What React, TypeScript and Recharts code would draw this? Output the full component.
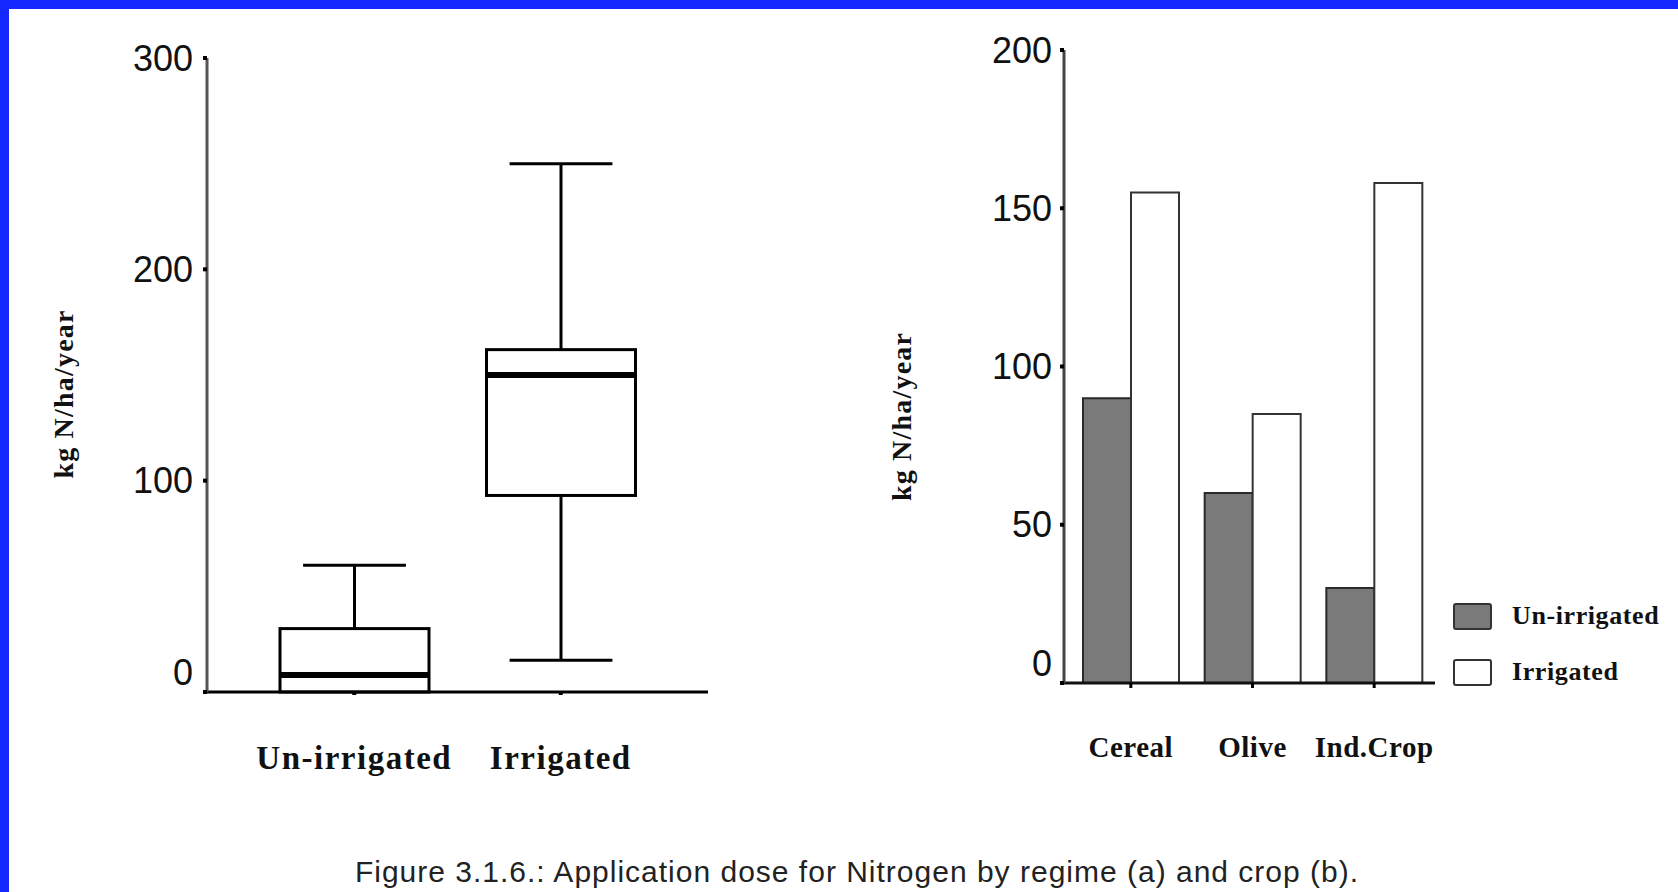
import { ComposedChart, BarChart, Bar, XAxis, YAxis, Legend } from 'recharts';

// (a) application dose by regime, box plot values
const regimes = ['Un-irrigated', 'Irrigated'];
const whiskerLow = [0, 15];
const quartileLow = [0, 93];
const medians = [8, 150];
const quartileHigh = [30, 162];
const whiskerHigh = [60, 250];
const doseTicks = [0, 100, 200, 300];

// (b) application dose by crop
const crops = ['Cereal', 'Olive', 'Ind.Crop'];
const unIrrigated = [90, 60, 30];
const irrigated = [155, 85, 158];
const cropTicks = [0, 50, 100, 150, 200];
const seriesNames = ['Un-irrigated', 'Irrigated'];

const boxData = regimes.map((name, i) => ({
    name,
    min: whiskerLow[i],
    q1: quartileLow[i],
    median: medians[i],
    q3: quartileHigh[i],
    max: whiskerHigh[i],
}));

const cropData = crops.map((name, i) => ({
    name,
    unIrrigated: unIrrigated[i],
    irrigated: irrigated[i],
}));

const SANS = "'Liberation Sans', Arial, sans-serif";
const SERIF = "'Liberation Serif', 'Times New Roman', serif";

const BoxShape = (props: any) => {
    const { x, y, width, height, payload } = props;
    const { min, q1, median, q3, max } = payload;
    const k = height / (max - min);
    const py = (v: number) => y + (max - v) * k;
    const cx = x + width / 2;
    const cap = width * 0.69;
    return (
        <g stroke="#000" fill="none">
            <line x1={cx} x2={cx} y1={py(max)} y2={py(q3)} strokeWidth={3} />
            <line x1={cx - cap / 2} x2={cx + cap / 2} y1={py(max)} y2={py(max)} strokeWidth={3} />
            {min < q1 && (
                <>
                    <line x1={cx} x2={cx} y1={py(q1)} y2={py(min)} strokeWidth={3} />
                    <line x1={cx - cap / 2} x2={cx + cap / 2} y1={py(min)} y2={py(min)} strokeWidth={3} />
                </>
            )}
            <rect x={x} y={py(q3)} width={width} height={py(q1) - py(q3)} fill="#fff" strokeWidth={3} />
            <line x1={x} x2={x + width} y1={py(median)} y2={py(median)} strokeWidth={6} />
        </g>
    );
};

const YTick = (props: any) => {
    const { x, y, payload } = props;
    return (
        <text
            x={x}
            y={payload.value === 0 ? y - 20 : y}
            textAnchor="end"
            dominantBaseline="central"
            fontFamily={SANS}
            fontSize={36}
            fill="#111"
        >
            {payload.value}
        </text>
    );
};

const makeXTick = (dy: number, size: number, spacing: number) => (props: any) => {
    const { x, y, payload } = props;
    return (
        <text
            x={x}
            y={y + dy}
            textAnchor="middle"
            fontFamily={SERIF}
            fontWeight="bold"
            fontSize={size}
            letterSpacing={spacing}
            fill="#111"
        >
            {payload.value}
        </text>
    );
};

const makeYLabel = (dx: number, dy: number) => (props: any) => {
    const { viewBox } = props;
    const cx = viewBox.x + dx;
    const cy = viewBox.y + viewBox.height / 2 + dy;
    return (
        <text
            x={cx}
            y={cy}
            transform={`rotate(-90, ${cx}, ${cy})`}
            textAnchor="middle"
            dominantBaseline="central"
            fontFamily={SERIF}
            fontWeight="bold"
            fontSize={28}
            letterSpacing={1.2}
            fill="#111"
        >
            kg N/ha/year
        </text>
    );
};

const CropLegend = (props: any) => {
    const items = [...(props.payload || [])].sort(
        (a: any, b: any) => seriesNames.indexOf(a.value) - seriesNames.indexOf(b.value)
    );
    return (
        <div>
            {items.map((entry: any) => (
                <div key={entry.value} style={{ display: 'flex', alignItems: 'center', height: 56 }}>
                    <span
                        style={{
                            width: 39,
                            height: 27,
                            background: entry.color,
                            border: '2px solid #333',
                            borderRadius: 3,
                            boxSizing: 'border-box',
                        }}
                    />
                    <span
                        style={{
                            marginLeft: 20,
                            fontFamily: SERIF,
                            fontWeight: 'bold',
                            fontSize: 26,
                            letterSpacing: 0.6,
                            color: '#111',
                        }}
                    >
                        {entry.value}
                    </span>
                </div>
            ))}
        </div>
    );
};

const App = () => {
    return (
        <div
            style={{
                position: 'absolute',
                left: 0,
                top: 0,
                width: 1678,
                height: 892,
                overflow: 'hidden',
                background: '#fff',
            }}
        >
            <div style={{ position: 'absolute', left: 0, top: 0, width: 1678, height: 9, background: '#1428ff' }} />
            <div style={{ position: 'absolute', left: 0, top: 0, width: 9, height: 892, background: '#1428ff' }} />

            <div style={{ position: 'absolute', left: 0, top: 0 }}>
                <ComposedChart
                    width={728}
                    height={780}
                    data={boxData}
                    margin={{ top: 58, right: 20, bottom: 0, left: 147 }}
                >
                    <XAxis
                        dataKey="name"
                        height={88}
                        padding={{ left: 44, right: 44 }}
                        axisLine={{ stroke: '#000', strokeWidth: 3 }}
                        tickLine={{ stroke: '#000', strokeWidth: 4 }}
                        tickSize={3}
                        tickMargin={2}
                        tick={makeXTick(72, 33, 1.5)}
                    />
                    <YAxis
                        width={60}
                        domain={[0, 300]}
                        ticks={doseTicks}
                        axisLine={{ stroke: '#555', strokeWidth: 3 }}
                        tickLine={{ stroke: '#000', strokeWidth: 4 }}
                        tickSize={4}
                        tickMargin={10}
                        tick={YTick}
                        label={{ content: makeYLabel(-84, 19) }}
                    />
                    <Bar
                        dataKey={(d: any) => [d.min, d.max]}
                        barSize={149}
                        shape={BoxShape}
                        isAnimationActive={false}
                    />
                </ComposedChart>
            </div>

            <div style={{ position: 'absolute', left: 860, top: 0 }}>
                <BarChart
                    width={818}
                    height={770}
                    data={cropData}
                    barGap={0}
                    margin={{ top: 50, right: 243, bottom: 0, left: 144 }}
                >
                    <XAxis
                        dataKey="name"
                        height={87}
                        padding={{ left: 6, right: 0 }}
                        axisLine={{ stroke: '#111', strokeWidth: 3 }}
                        tickLine={{ stroke: '#000', strokeWidth: 3 }}
                        tickSize={5}
                        tickMargin={2}
                        tick={makeXTick(67, 29, 0.5)}
                    />
                    <YAxis
                        width={60}
                        domain={[0, 200]}
                        ticks={cropTicks}
                        axisLine={{ stroke: '#444', strokeWidth: 3 }}
                        tickLine={{ stroke: '#000', strokeWidth: 4 }}
                        tickSize={4}
                        tickMargin={8}
                        tick={YTick}
                        label={{ content: makeYLabel(-103, 50) }}
                    />
                    <Legend
                        layout="vertical"
                        align="center"
                        verticalAlign="middle"
                        content={CropLegend}
                        wrapperStyle={{ left: 593, top: 588, width: 220 }}
                    />
                    <Bar
                        dataKey="unIrrigated"
                        name={seriesNames[0]}
                        fill="#7a7a7a"
                        stroke="#2a2a2a"
                        strokeWidth={2}
                        barSize={48}
                        isAnimationActive={false}
                    />
                    <Bar
                        dataKey="irrigated"
                        name={seriesNames[1]}
                        fill="#ffffff"
                        stroke="#333"
                        strokeWidth={2}
                        barSize={48}
                        isAnimationActive={false}
                    />
                </BarChart>
            </div>

            <div
                style={{
                    position: 'absolute',
                    left: 857,
                    top: 857,
                    transform: 'translateX(-50%)',
                    whiteSpace: 'nowrap',
                    fontFamily: SANS,
                    fontSize: 30,
                    letterSpacing: 1,
                    lineHeight: '30px',
                    color: '#222',
                }}
            >
                Figure 3.1.6.: Application dose for Nitrogen by regime (a) and crop (b).
            </div>
        </div>
    );
};

export default App;
